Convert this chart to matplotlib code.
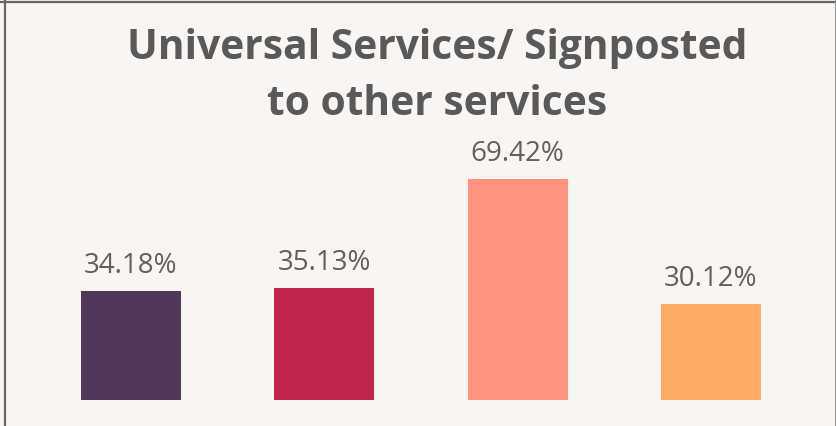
import matplotlib
matplotlib.use('Agg')
import matplotlib.pyplot as plt
from matplotlib.lines import Line2D

# Dados
categorias = ['A', 'B', 'C', 'D']
valores = [34.18, 35.13, 69.42, 30.12]
rotulos = ['34.18%', '35.13%', '69.42%', '30.12%']
cores = ['#51375A', '#C1264D', '#FE937F', '#FEAB66']

titulo_linhas = ['Universal Services/ Signposted', 'to other services']

fundo = '#F9F5F2'
cinza_texto = '#595959'

fig = plt.figure(figsize=(8.36, 4.26), dpi=100)
fig.patch.set_facecolor(fundo)

ax = fig.add_axes([0, 26 / 426, 1, 400 / 426])
ax.set_facecolor(fundo)

posicoes = list(range(len(categorias)))
ax.bar(posicoes, valores, width=0.517, color=cores)

for x, v, r in zip(posicoes, valores, rotulos):
    ax.annotate(r, (x, v), xytext=(0, 13), textcoords='offset points',
                ha='center', va='baseline', fontsize=20, color='#606060',
                family='Open Sans')

ax.set_xlim(-0.6776, 3.6466)
ax.set_ylim(0, 125.5)
ax.axis('off')

# Titulo em duas linhas
for linha, base in zip(titulo_linhas, [59, 115]):
    fig.text(437 / 836, 1 - base / 426, linha, ha='center', va='baseline',
             fontsize=29.3, fontweight='bold', color=cinza_texto,
             family='Open Sans')

# Borda do cartao
fig.add_artist(Line2D([0, 1], [1 - 2 / 426, 1 - 2 / 426], transform=fig.transFigure,
                      color='#666666', linewidth=1.6))
fig.add_artist(Line2D([5 / 836, 5 / 836], [0, 1], transform=fig.transFigure,
                      color='#666666', linewidth=1.6))
fig.add_artist(Line2D([834.5 / 836, 834.5 / 836], [0, 1], transform=fig.transFigure,
                      color='#999999', linewidth=0.8))

fig.savefig('out.png', dpi=100, facecolor=fundo)
